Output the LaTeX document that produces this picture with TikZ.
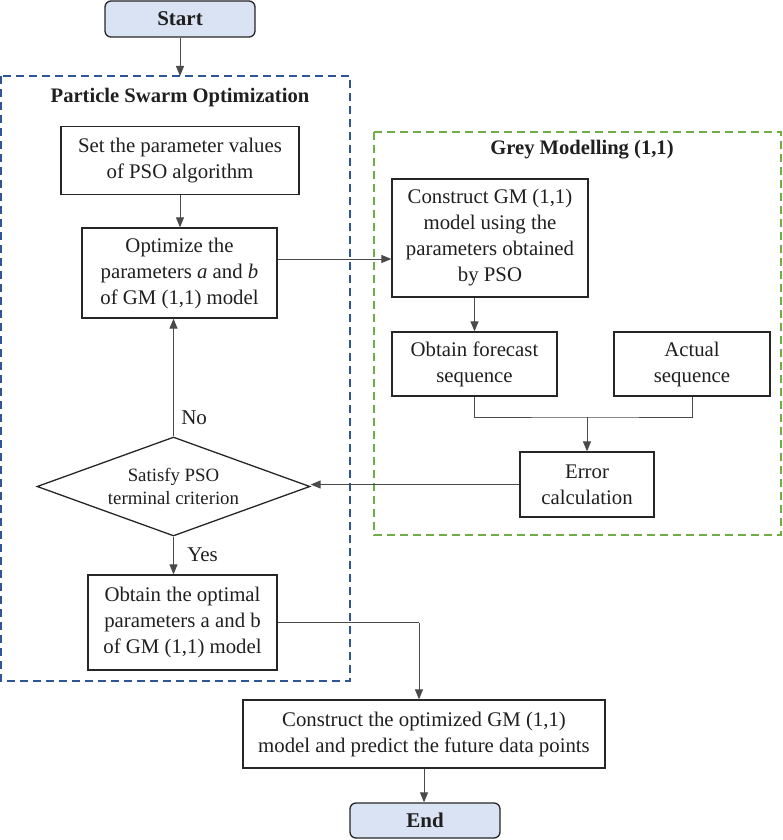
\documentclass[tikz,border=0pt]{standalone}
\usepackage{fontspec}
\setmainfont{Liberation Serif}
\usetikzlibrary{shapes.geometric,arrows.meta}
\definecolor{txt}{HTML}{1F1F1F}
\definecolor{edge}{HTML}{262626}
\definecolor{conn}{HTML}{4A4A4A}
\definecolor{pso}{HTML}{2F5597}
\definecolor{gm}{HTML}{70AD47}
\definecolor{term}{HTML}{DAE3F3}
\tikzset{
  box/.style={draw=edge, line width=1.3pt, align=center, inner sep=0pt, text=txt,
    font=\fontsize{20.8}{26}\selectfont},
  termbox/.style={box, rounded corners=6pt, fill=term, font=\fontsize{21}{24}\selectfont\bfseries},
  decide/.style={diamond, aspect=2.76, draw=edge, line width=1.3pt, align=center, inner sep=0pt, text=txt,
    font=\fontsize{18.8}{23}\selectfont},
  arr/.style={draw=conn, line width=1pt, -{Triangle[length=10pt,width=8pt]}},
  ln/.style={draw=conn, line width=1pt},
  group/.style={dash pattern=on 8pt off 5pt, line width=1.5pt},
  ttl/.style={font=\fontsize{20.6}{24}\selectfont\bfseries, text=txt},
  lbl/.style={font=\fontsize{21}{24}\selectfont, text=txt}
}
\begin{document}
\begin{tikzpicture}[x=1pt,y=-1pt]
\useasboundingbox (0,0) rectangle (782,840);
% groups
\draw[group, draw=pso] (1,76) rectangle (350,681);
\draw[group, draw=gm] (374,132) rectangle (781,535);
\node[ttl] (psott) at (180,98) {Particle Swarm Optimization};
\node[ttl] (gmtt) at (582,150) {Grey Modelling (1,1)};
% nodes
\node[termbox, minimum width=150pt, minimum height=36pt] (start) at (180,19) {Start};
\node[box, minimum width=238pt, minimum height=68pt] (set) at (180,160.5) {Set the parameter values\\of PSO algorithm};
\node[box, minimum width=195pt, minimum height=90pt] (opt) at (179.5,273) {Optimize the\\parameters \textit{a} and \textit{b}\\of GM (1,1) model};
\node[box, minimum width=196pt, minimum height=118pt] (cons) at (490,238) {Construct GM (1,1)\\model using the\\parameters obtained\\by PSO};
\node[box, minimum width=165pt, minimum height=64pt] (fore) at (474.5,364) {Obtain forecast\\sequence};
\node[box, minimum width=156pt, minimum height=64pt] (act) at (692,364) {Actual\\sequence};
\node[box, minimum width=134pt, minimum height=65pt] (err) at (587,484.5) {Error\\calculation};
\node[decide, minimum width=273pt, minimum height=99pt] (dia) at (173.5,486.5) {Satisfy PSO\\terminal criterion};
\node[box, minimum width=189pt, minimum height=95pt] (optimal) at (182.5,622.5) {Obtain the optimal\\parameters a and b\\of GM (1,1) model};
\node[box, minimum width=362pt, minimum height=68pt] (final) at (424,734) {Construct the optimized GM (1,1)\\model and predict the future data points};
\node[termbox, minimum width=150pt, minimum height=35pt] (end) at (425,820.5) {End};
% helper coordinates
\coordinate (psotop) at (180,76);
\coordinate (merge) at (587,417);
\coordinate (drop) at (419,622.5);
% connectors
\draw[arr] (start.south) -- (psotop);
\draw[arr] (set.south) -- (set.south |- opt.north);
\draw[arr] ([yshift=14pt]opt.east) -- ([yshift=-21pt]cons.west);
\draw[arr] (fore.north |- cons.south) -- (fore.north);
\draw[ln] (fore.south) |- (merge) -| (act.south);
\draw[arr] (merge) -- (err.north);
\draw[arr] (err.west) -- (err.west -| dia.east);
\draw[arr] (dia.north) -- (dia.north |- opt.south) node[lbl, pos=0.16, right=4pt] {No};
\draw[arr] (dia.south) -- (dia.south |- optimal.north) node[lbl, pos=0.49, right=10pt] {Yes};
\draw[ln] (optimal.east) -- (drop);
\draw[arr] (drop) -- (drop |- final.north);
\draw[arr] (final.south) -- (final.south |- end.north);
\end{tikzpicture}
\end{document}
